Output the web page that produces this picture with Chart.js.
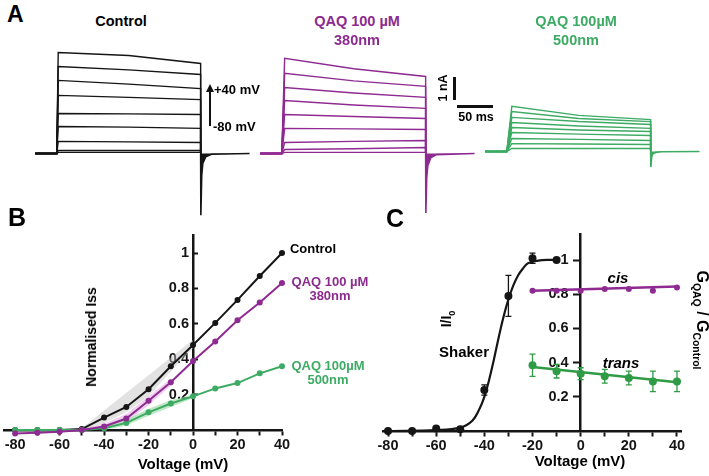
<!DOCTYPE html>
<html>
<head>
<meta charset="utf-8">
<script src="https://cdn.jsdelivr.net/npm/chart.js@4.4.1/dist/chart.umd.min.js"></script>
<style>
  body { margin: 0; background: #fff; }
  #wrap { position: relative; width: 709px; height: 476px; overflow: hidden; font-family: "Liberation Sans", Arial, sans-serif; font-weight: bold; }
  canvas { position: absolute; }
  .t { position: absolute; white-space: nowrap; transform: translate(-50%, -50%); line-height: 1; }
  .lbl { position: absolute; white-space: nowrap; line-height: 1; }
  .purple { color: #8c2a8f; }
  .green { color: #3dab64; }
  sub { font-size: 65%; vertical-align: -0.35em; }
</style>
</head>
<body>
<div id="wrap">
  <canvas id="trCtrl" width="223" height="185" style="left:28px;top:39px"></canvas>
  <canvas id="trUv" width="223" height="185" style="left:253px;top:39px"></canvas>
  <canvas id="trVis" width="223" height="185" style="left:478px;top:37px"></canvas>
  <canvas id="ivChart" width="360" height="276" style="left:0;top:200px"></canvas>
  <canvas id="gvChart" width="349" height="276" style="left:360px;top:200px"></canvas>

  <!-- panel A -->
  <div class="lbl" style="left:7px;top:3px;font-size:23px">A</div>
  <div class="t" style="left:121px;top:21px;font-size:14.5px">Control</div>
  <div class="t purple" style="left:357px;top:21px;font-size:14.5px">QAQ 100 µM</div>
  <div class="t purple" style="left:357px;top:40px;font-size:14.5px">380nm</div>
  <div class="t green" style="left:576px;top:21px;font-size:14.5px">QAQ 100µM</div>
  <div class="t green" style="left:576px;top:40px;font-size:14.5px">500nm</div>
  <div style="position:absolute;left:209px;top:91px;width:1.5px;height:35px;background:#111"></div>
  <div style="position:absolute;left:206px;top:84px;width:0;height:0;border-left:4px solid transparent;border-right:4px solid transparent;border-bottom:8px solid #111"></div>
  <div class="lbl" style="left:214px;top:83px;font-size:13px">+40 mV</div>
  <div class="lbl" style="left:213px;top:120px;font-size:13px">-80 mV</div>
  <div style="position:absolute;left:453px;top:77px;width:2.5px;height:23px;background:#111"></div>
  <div style="position:absolute;left:457px;top:105px;width:36px;height:2.5px;background:#111"></div>
  <div class="t" style="left:443px;top:88px;font-size:12.5px;transform:translate(-50%,-50%) rotate(-90deg)">1 nA</div>
  <div class="t" style="left:476px;top:117px;font-size:12.5px">50 ms</div>

  <!-- panel B -->
  <div class="lbl" style="left:8px;top:205px;font-size:25px">B</div>
  <div class="t" style="left:313px;top:248px;font-size:13px">Control</div>
  <div class="t purple" style="left:330px;top:281px;font-size:13px">QAQ 100 µM</div>
  <div class="t purple" style="left:330px;top:295px;font-size:13px">380nm</div>
  <div class="t green" style="left:328px;top:365px;font-size:13px">QAQ 100µM</div>
  <div class="t green" style="left:328px;top:379px;font-size:13px">500nm</div>
  <div class="t" style="left:91px;top:337px;font-size:14px;transform:translate(-50%,-50%) rotate(-90deg)">Normalised Iss</div>
  <div class="t" style="left:183px;top:463px;font-size:15px">Voltage (mV)</div>

  <!-- panel C -->
  <div class="lbl" style="left:386px;top:206px;font-size:25px">C</div>
  <div class="t" style="left:448px;top:319px;font-size:14px;transform:translate(-50%,-50%) rotate(-90deg)">I/I<sub>0</sub></div>
  <div class="t" style="left:464px;top:351px;font-size:15px">Shaker</div>
  <div class="t" style="left:618px;top:277px;font-size:15px;font-style:italic">cis</div>
  <div class="t" style="left:621px;top:362px;font-size:15px;font-style:italic">trans</div>
  <div class="t" style="left:700px;top:320px;font-size:16px;transform:translate(-50%,-50%) rotate(90deg)">G<sub>QAQ</sub> / G<sub>Control</sub></div>
  <div class="t" style="left:580px;top:460px;font-size:15px">Voltage (mV)</div>
</div>

<script>
// ---- panel A: current traces (nA), read at the onset peak, at 100 ms and at the end of the 200 ms step
const stepMs = 200;
const ctrlStart = [4.59, 3.95, 3.32, 2.64, 1.82, 1.23, 0.55, 0.14, 0.05];
const ctrlMid   = [4.45, 3.80, 3.15, 2.55, 1.80, 1.20, 0.53, 0.14, 0.05];
const ctrlEnd   = [4.09, 3.59, 2.95, 2.45, 1.77, 1.14, 0.50, 0.14, 0.05];
const uvStart = [4.32, 3.64, 3.00, 2.41, 1.77, 1.14, 0.50, 0.18, 0.05];
const uvMid   = [3.85, 3.30, 2.75, 2.20, 1.68, 1.12, 0.55, 0.22, 0.05];
const uvEnd   = [3.50, 3.05, 2.55, 2.05, 1.59, 1.09, 0.59, 0.27, 0.05];
const visStart = [2.05, 1.82, 1.55, 1.32, 1.09, 0.86, 0.59, 0.36, 0.14];
const visMid   = [1.64, 1.50, 1.36, 1.16, 0.98, 0.79, 0.55, 0.34, 0.14];
const visEnd   = [1.45, 1.36, 1.23, 1.05, 0.91, 0.73, 0.50, 0.32, 0.14];
// tail currents after the step
const tailT = [200, 200.3, 201.5, 203, 207, 215, 268];
const ctrlTail = [0, -2.8, -1.0, -0.45, -0.15, -0.03, 0];
const uvTail   = [0, -2.7, -1.1, -0.55, -0.2, -0.05, 0];
const visTail  = [0, -0.7, -0.25, -0.1, -0.04, -0.01, 0];

// ---- panel B: normalised steady-state current
const voltages = [-80, -70, -60, -50, -40, -30, -20, -10, 0, 10, 20, 30, 40];
const ctrlIss = [0, 0, 0, 0.005, 0.07, 0.13, 0.23, 0.36, 0.48, 0.605, 0.735, 0.87, 1.0];
const uvIss   = [-0.02, -0.015, -0.01, 0, 0.02, 0.065, 0.165, 0.27, 0.39, 0.5, 0.62, 0.72, 0.83];
const visIss  = [0, 0, 0, 0, 0.01, 0.04, 0.10, 0.15, 0.19, 0.235, 0.265, 0.32, 0.36];
const ctrlBandV = [-50, -40, -30, -20, -10, 0];
const ctrlBandHi = [0.01, 0.11, 0.21, 0.31, 0.41, 0.51];
const ctrlBandLo = [0, 0.04, 0.10, 0.19, 0.33, 0.46];
const uvBandV = [-50, -40, -30, -20, -10];
const uvBandHi = [0.005, 0.035, 0.09, 0.19, 0.29];
const uvBandLo = [0, 0.01, 0.045, 0.14, 0.25];
const visBandV = [-40, -30, -20, -10, 0];
const visBandHi = [0.02, 0.06, 0.12, 0.17, 0.20];
const visBandLo = [0, 0.025, 0.08, 0.13, 0.18];

// ---- panel C: Shaker activation and G ratio
const shakerV = [-80, -70, -60, -50, -40, -30, -20, -10];
const shakerI = [0, 0, 0.015, 0.01, 0.24, 0.79, 1.01, 1.0];
const shakerErr = [0, 0, 0, 0, 0.03, 0.12, 0.03, 0];
const shakerFitV = [-80, -60, -50, -45, -42, -40, -38, -36, -34, -32, -30, -28, -26, -24, -22, -20, -16, -10];
const shakerFitI = [0, 0.005, 0.02, 0.06, 0.13, 0.2, 0.3, 0.42, 0.55, 0.67, 0.77, 0.85, 0.91, 0.95, 0.98, 0.99, 1.0, 1.0];
const ratioV = [-20, -10, 0, 10, 20, 30, 40];
const cisRatio = [0.82, 0.82, 0.82, 0.83, 0.83, 0.82, 0.84];
const transRatio = [0.385, 0.35, 0.335, 0.32, 0.31, 0.29, 0.29];
const transErr = [0.065, 0.04, 0.035, 0.04, 0.04, 0.06, 0.06];
const fitEnds = [-20, 40];
const cisFit = [0.82, 0.845];
const transFit = [0.375, 0.285];

const vTicks = [-80, -70, -60, -50, -40, -30, -20, -10, 0, 10, 20, 30, 40];
const yTicks = [0.2, 0.4, 0.6, 0.8, 1];

const BLACK = '#151515', PURPLE = '#8e2a91', GREEN = '#3dab64', GREEN_C = '#2f9c45';
Chart.defaults.font.family = '"Liberation Sans", Arial, sans-serif';

const pts = (xs, ys) => xs.map((x, i) => ({ x: x, y: ys[i] }));

function traceChart(id, color, start, mid, end, tail, tPeak) {
  const sets = start.map((s, k) => ({
    data: [{ x: -30, y: 0 }, { x: 0, y: 0 }, { x: tPeak, y: s }, { x: 100, y: mid[k] }, { x: stepMs, y: end[k] }, { x: stepMs, y: 0 }],
    borderColor: color, borderWidth: 1.4, pointRadius: 0, fill: false
  }));
  sets.push({ data: pts(tailT, tail), borderColor: color, backgroundColor: color, borderWidth: 1.6, pointRadius: 0, fill: 'origin' });
  new Chart(document.getElementById(id), {
    type: 'line',
    data: { datasets: sets },
    options: {
      animation: false, responsive: false,
      layout: { padding: 0 },
      plugins: { legend: { display: false }, tooltip: { enabled: false } },
      scales: {
        x: { type: 'linear', display: false, min: -40, max: 270 },
        y: { type: 'linear', display: false, min: -3.2, max: 5.2 }
      }
    }
  });
}

traceChart('trCtrl', BLACK, ctrlStart, ctrlMid, ctrlEnd, ctrlTail, 2);
traceChart('trUv', PURPLE, uvStart, uvMid, uvEnd, uvTail, 4);
traceChart('trVis', GREEN, visStart, visMid, visEnd, visTail, 7);

const tickFont = { weight: 'bold', size: 14.5 };

// y labels on an axis placed at x = 0 ignore ticks.padding, so the gap is made with trailing spaces
function axes(xmin, xmax, ymax, yTickLen, gap) {
  return {
    x: {
      type: 'linear', min: xmin, max: xmax, position: { y: 0 },
      afterBuildTicks: s => { s.ticks = vTicks.map(v => ({ value: v })); },
      ticks: { color: BLACK, font: tickFont, padding: 2, maxRotation: 0, autoSkip: false,
               callback: v => (v % 20 === 0 ? String(v) : '') },
      grid: { drawOnChartArea: false, tickLength: 4, tickWidth: 2, tickColor: BLACK },
      border: { color: BLACK, width: 2.5 }
    },
    y: {
      type: 'linear', min: 0, max: ymax, position: { x: 0 },
      afterBuildTicks: s => { s.ticks = yTicks.map(v => ({ value: v })); },
      ticks: { color: BLACK, font: tickFont, callback: v => String(v) + gap },
      grid: { drawOnChartArea: false, tickLength: yTickLen, tickWidth: 2, tickColor: BLACK },
      border: { color: BLACK, width: 2.5 }
    }
  };
}

// ---- panel B
const band = (xs, ys, color, fill, order) => ({
  data: pts(xs, ys), borderWidth: 0, pointRadius: 0, backgroundColor: color, fill: fill, order: order, clip: false
});
const ivLine = (ys, color, order) => ({
  data: pts(voltages, ys), borderColor: color, backgroundColor: color, borderWidth: 2,
  pointRadius: 3, pointBorderWidth: 0, fill: false, order: order, clip: false
});
new Chart(document.getElementById('ivChart'), {
  type: 'line',
  data: {
    datasets: [
      band(ctrlBandV, ctrlBandHi, 'rgba(190,190,190,0.45)', '+1', 10),
      band(ctrlBandV, ctrlBandLo, 'rgba(190,190,190,0.45)', false, 10),
      band(uvBandV, uvBandHi, 'rgba(225,170,225,0.55)', '+1', 9),
      band(uvBandV, uvBandLo, 'rgba(225,170,225,0.55)', false, 9),
      band(visBandV, visBandHi, 'rgba(150,215,160,0.6)', '+1', 8),
      band(visBandV, visBandLo, 'rgba(150,215,160,0.6)', false, 8),
      ivLine(ctrlIss, BLACK, 3),
      ivLine(visIss, GREEN, 2),
      ivLine(uvIss, PURPLE, 1)
    ]
  },
  options: {
    animation: false, responsive: false,
    layout: { padding: { left: 0, right: 78, top: 35.3, bottom: 46 } },
    plugins: { legend: { display: false }, tooltip: { enabled: false } },
    scales: axes(-85, 40, 1.1, -6, ' ')
  }
});

// ---- panel C
const errorBars = {
  id: 'errorBars',
  afterDatasetsDraw(chart) {
    const { ctx, scales: { y } } = chart;
    chart.data.datasets.forEach((ds, i) => {
      if (!ds.errors) return;
      const meta = chart.getDatasetMeta(i);
      ctx.save();
      ctx.strokeStyle = ds.borderColor;
      ctx.lineWidth = 1.3;
      ds.data.forEach((p, j) => {
        const e = ds.errors[j];
        if (!e) return;
        const px = meta.data[j].x;
        const top = y.getPixelForValue(p.y + e), bot = y.getPixelForValue(p.y - e);
        ctx.beginPath();
        ctx.moveTo(px, top); ctx.lineTo(px, bot);
        ctx.moveTo(px - 3, top); ctx.lineTo(px + 3, top);
        ctx.moveTo(px - 3, bot); ctx.lineTo(px + 3, bot);
        ctx.stroke();
      });
      ctx.restore();
    });
  }
};
new Chart(document.getElementById('gvChart'), {
  type: 'line',
  data: {
    datasets: [
      { data: pts(shakerFitV, shakerFitI), borderColor: BLACK, borderWidth: 2.2, pointRadius: 0, tension: 0.4, fill: false },
      { data: pts(shakerV, shakerI), errors: shakerErr, showLine: false, borderColor: BLACK, backgroundColor: BLACK, pointRadius: 4, pointBorderWidth: 0, clip: false },
      { data: pts(fitEnds, cisFit), borderColor: PURPLE, borderWidth: 2.5, pointRadius: 0, fill: false },
      { data: pts(ratioV, cisRatio), showLine: false, borderColor: PURPLE, backgroundColor: PURPLE, pointRadius: 3, pointBorderWidth: 0 },
      { data: pts(fitEnds, transFit), borderColor: GREEN_C, borderWidth: 2.5, pointRadius: 0, fill: false },
      { data: pts(ratioV, transRatio), errors: transErr, showLine: false, borderColor: GREEN_C, backgroundColor: GREEN_C, pointRadius: 4, pointBorderWidth: 0 }
    ]
  },
  options: {
    animation: false, responsive: false,
    layout: { padding: { left: 23.2, right: 27.2, top: 34.4, bottom: 45 } },
    plugins: { legend: { display: false }, tooltip: { enabled: false } },
    scales: axes(-82, 42, 1.15, 6, '   ')
  },
  plugins: [errorBars]
});
</script>
</body>
</html>
